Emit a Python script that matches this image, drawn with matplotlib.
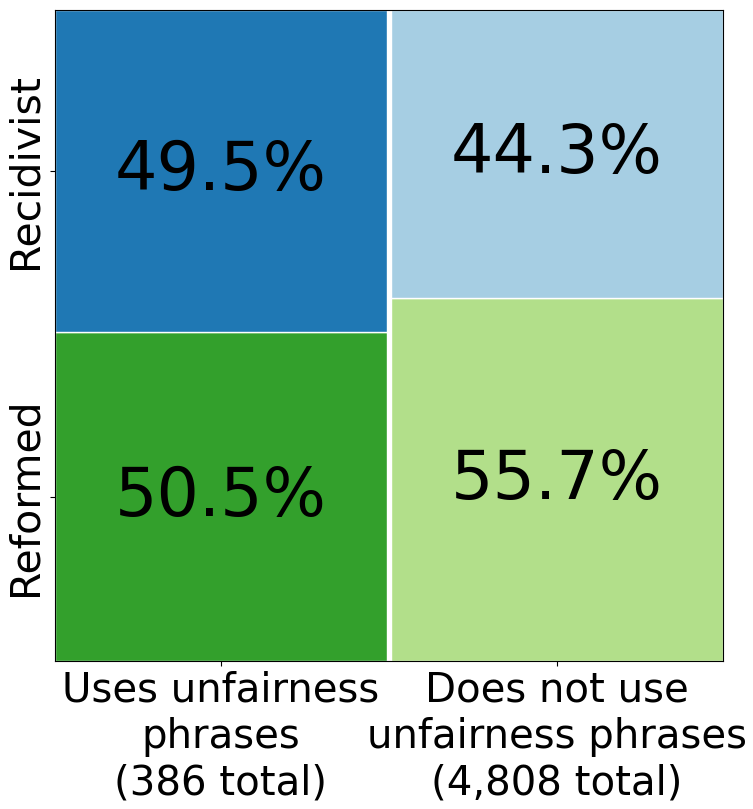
import matplotlib
matplotlib.use("Agg")
import matplotlib.pyplot as plt

columns = ["Uses unfairness\nphrases\n(386 total)", "Does not use\nunfairness phrases\n(4,808 total)"]
rows = ["Recidivist", "Reformed"]
recidivist_pct = [49.5, 44.3]
reformed_pct = [50.5, 55.7]
top_colors = ["#1f78b4", "#a6cee3"]
bottom_colors = ["#33a02c", "#b2df8a"]

fig = plt.figure(figsize=(7.53, 8.09), dpi=100)
ax = fig.add_axes([55/753, 1-661/809, 668/753, 651/809])

gap = 0.003
width = 0.5 - gap
lefts = [0.0, 0.5 + gap]
for i in range(2):
    ref = reformed_pct[i] / 100
    rec = recidivist_pct[i] / 100
    ax.bar(lefts[i], ref, width=width, bottom=0, align="edge",
           color=bottom_colors[i], edgecolor="white", linewidth=1)
    ax.bar(lefts[i], rec, width=width, bottom=ref, align="edge",
           color=top_colors[i], edgecolor="white", linewidth=1)
    cx = lefts[i] + width / 2
    ax.text(cx, ref + rec / 2, f"{recidivist_pct[i]:.1f}%", ha="center", va="center",
            fontsize=48, color="black")
    ax.text(cx, ref / 2, f"{reformed_pct[i]:.1f}%", ha="center", va="center",
            fontsize=48, color="black")

ax.set_xlim(0, 1)
ax.set_ylim(0, 1)
ax.set_xticks([lefts[i] + width / 2 for i in range(2)])
ax.set_xticklabels(columns, fontsize=29)
ref0 = reformed_pct[0] / 100
ax.set_yticks([ref0 + (1 - ref0) / 2, ref0 / 2])
ax.set_yticklabels(rows, fontsize=29.5, rotation=90, va="center")

fig.savefig("out.png", dpi=100)
